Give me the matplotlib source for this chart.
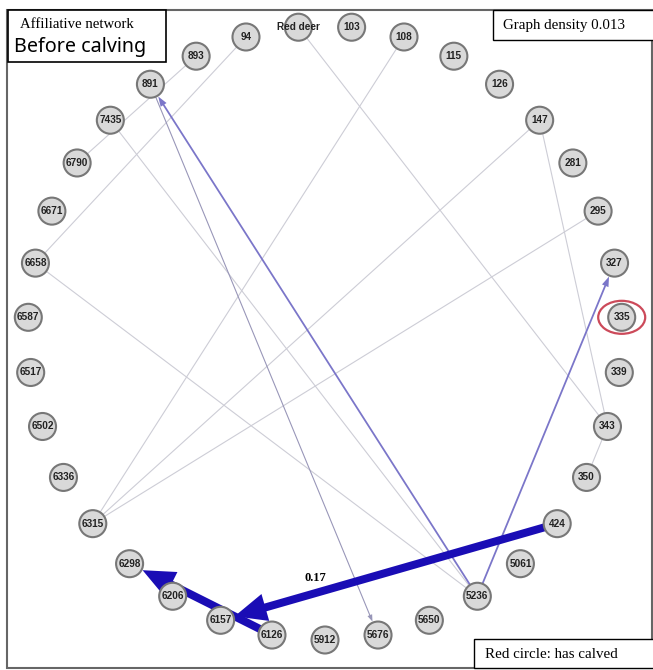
import matplotlib
matplotlib.use('Agg')
import matplotlib.pyplot as plt
from matplotlib.patches import Circle, Ellipse, Rectangle
import numpy as np

# nodes in clockwise order, starting just left of the top
nodes = ["Red deer", "103", "108", "115", "126", "147", "281", "295", "327",
         "335", "339", "343", "350", "424", "5061", "5236", "5650", "5676",
         "5912", "6126", "6157", "6206", "6298", "6315", "6336", "6502",
         "6517", "6587", "6658", "6671", "6790", "7435", "891", "893", "94"]
calved = ["335"]

# affiliative ties (source, target, weight)
edge_src = ["424", "6126", "5236", "5236", "891", "893", "94", "7435",
            "6658", "108", "147", "295", "Red deer", "147", "343"]
edge_dst = ["6157", "6298", "891", "327", "5676", "6790", "6658", "5236",
            "5236", "6315", "6315", "6315", "343", "343", "350"]
edge_w = [0.17, 0.15, 0.06, 0.06, 0.03, 0.01, 0.01, 0.01,
          0.01, 0.01, 0.01, 0.01, 0.01, 0.01, 0.01]
labelled = ["424"]  # weight shown for ties from this node

graph_density = 0.013

W, H = 653, 670
fig = plt.figure(figsize=(W / 100, H / 100), dpi=100)
ax = fig.add_axes([0, 0, 1, 1])
ax.set_xlim(0, W)
ax.set_ylim(H, 0)
ax.axis('off')

# circular layout (slightly taller in the lower half)
cx, cy, rx, ry_top, ry_bot = 325, 331, 297, 305, 309
step = 360 / len(nodes)
pos = {}
for i, n in enumerate(nodes):
    t = np.deg2rad(90 + step / 2 - i * step)
    ry = ry_top if np.sin(t) > 0 else ry_bot
    pos[n] = np.array([cx + rx * np.cos(t), cy - ry * np.sin(t)])

r_node = 13.5


def edge_style(w):
    # color, shaft width, head width, head length (pixels); None = no arrow
    if w >= 0.1:
        return '#1a0db5', 8, 28, 32
    if w >= 0.04:
        return '#7b76c9', 1.8, 7, 10
    if w >= 0.02:
        return '#9896b8', 1.1, 5, 7
    return '#cdcdd6', None, None, None


order = np.argsort(edge_w, kind='stable')
for k in order:
    s, d, w = edge_src[k], edge_dst[k], edge_w[k]
    col, wid, hw, hl = edge_style(w)
    p0, p1 = pos[s], pos[d]
    u = (p1 - p0) / np.linalg.norm(p1 - p0)
    a = p0 + u * r_node
    b = p1 - u * (r_node + 1)
    if wid is None:
        ax.plot([a[0], b[0]], [a[1], b[1]], color=col, lw=0.8, zorder=2)
    else:
        ax.arrow(a[0], a[1], b[0] - a[0], b[1] - a[1], width=wid,
                 head_width=hw, head_length=hl, length_includes_head=True,
                 facecolor=col, edgecolor='none', zorder=2 + w * 10)
    if s in labelled:
        f = 0.72
        ax.annotate('%.2f' % w, p0 + f * (p1 - p0),
                    xytext=(0, 7), textcoords='offset points',
                    ha='center', va='bottom', fontsize=9, fontweight='bold',
                    family='Liberation Serif', zorder=6)

for n in nodes:
    x, y = pos[n]
    ax.add_patch(Circle((x, y), r_node, facecolor='#d9d9d9',
                        edgecolor='#777777', lw=1.5, zorder=4))
    ax.text(x, y, n, ha='center', va='center', fontsize=7.2,
            fontweight='bold', family='Liberation Sans', color='#222222',
            zorder=5)
    if n in calved:
        ax.add_patch(Ellipse((x, y), 47, 33, facecolor='none',
                             edgecolor='#cc4a5a', lw=1.6, zorder=5))

# frame
ax.add_patch(Rectangle((7, 9.5), 645, 658, facecolor='none',
                       edgecolor='#666666', lw=1.5, zorder=1))

# text boxes
ax.add_patch(Rectangle((8, 9.5), 158, 52.5, facecolor='white',
                       edgecolor='black', lw=1.2, zorder=7))
ax.text(20, 25, 'Affiliative network', fontsize=10.6,
        family='Liberation Serif', va='center', zorder=8)
ax.text(14, 47, 'Before calving', fontsize=14.2, family='Noto Sans',
        va='center', zorder=8)

ax.add_patch(Rectangle((493, 9.5), 165, 30, facecolor='white',
                       edgecolor='black', lw=1.0, zorder=7))
ax.text(503, 25, 'Graph density %.3f' % graph_density, fontsize=10.8,
        family='Liberation Serif', va='center', zorder=8)

ax.add_patch(Rectangle((474, 638.5), 185, 29.5, facecolor='white',
                       edgecolor='black', lw=1.0, zorder=7))
ax.text(485, 655, 'Red circle: has calved', fontsize=10.8,
        family='Liberation Serif', va='center', zorder=8)

fig.savefig('out.png', dpi=100)
